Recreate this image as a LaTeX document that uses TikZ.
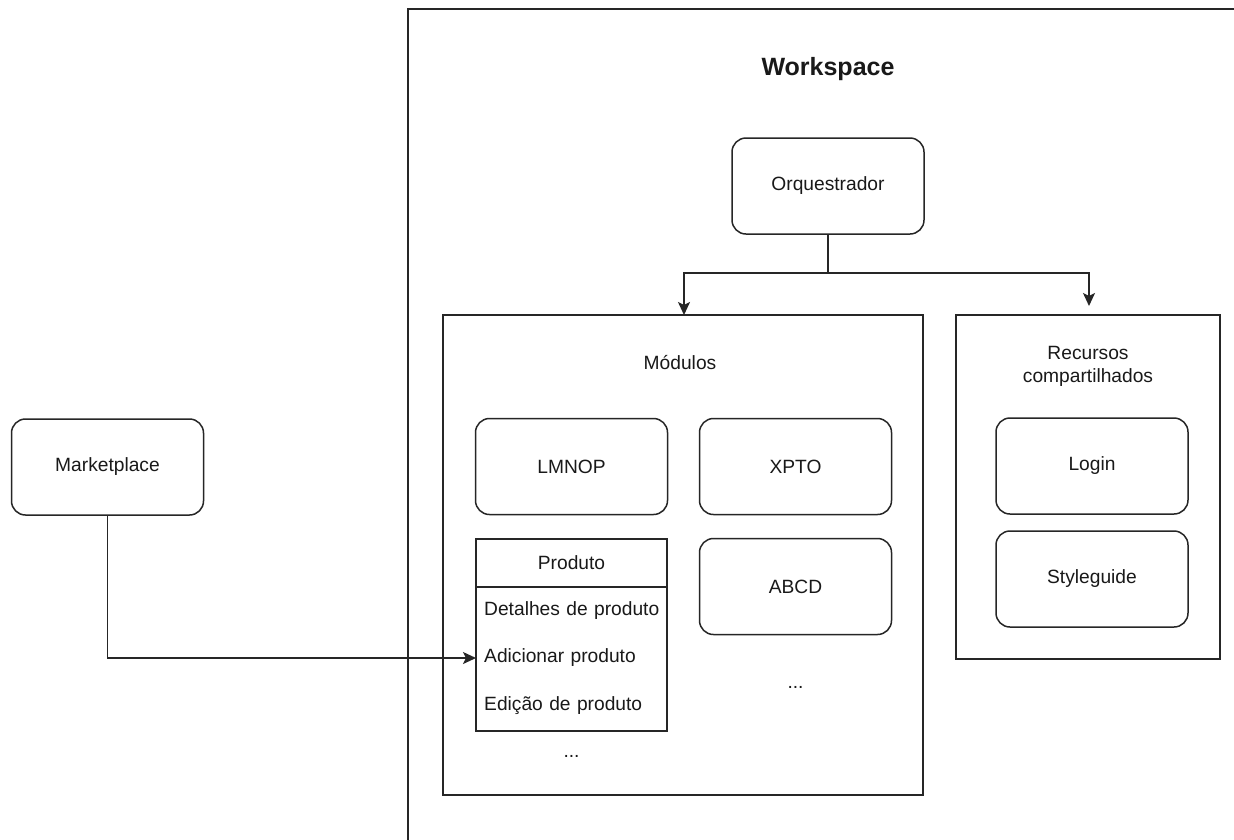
\documentclass[tikz,border=0pt]{standalone}
\usepackage{fontspec}
\setmainfont{Liberation Sans}
\usetikzlibrary{arrows.meta,positioning}
\begin{document}
\begin{tikzpicture}[x=1pt,y=-1pt,
  every node/.style={font=\fontsize{19.2}{23}\selectfont, text=black!90},
  line/.style={draw=black!85, line width=1.5pt},
  rbox/.style={line, rounded corners=14pt, minimum width=192pt, minimum height=96pt, inner sep=0pt},
  cont/.style={line, inner sep=0pt},
  rowtxt/.style={anchor=west, text width=183pt, inner xsep=8pt, inner ysep=0pt, align=left, minimum height=40pt},
  arr/.style={line, -{Stealth[length=13pt,width=12pt,inset=3pt]}}
]
\useasboundingbox (0,0) rectangle (1234,839);
\fill[white] (0,0) rectangle (1234,839);
\clip (0,0) rectangle (1234,839);

% Workspace container (runs beyond the page)
\draw[line] (408,9) rectangle (1260,870);
\node[font=\bfseries\fontsize{25}{30}\selectfont] (ws) at (828,69) {Workspace};

% Orquestrador
\node[rbox] (orq) at (828,186) {Orquestrador};

% Modulos container
\node[cont, minimum width=480pt, minimum height=480pt] (mod) at (683,555) {};
\node (modt) at (680,363) {Módulos};

% Recursos container
\node[cont, minimum width=264pt, minimum height=344pt] (rec) at (1088,487) {};
\node[align=center] (rect) at (1088,366) {Recursos\\compartilhados};

% Modules
\node[rbox] (lmnop) at (571.5,466.5) {LMNOP};
\node[rbox] (xpto) at (795.5,466.5) {XPTO};
\node[rbox] (abcd) at (795.5,586.5) {ABCD};
\node (dots2) at (795.5,687) {...};

% Produto table
\node[cont, minimum width=191pt, minimum height=192pt] (prod) at (571.5,635) {};
\node[cont, minimum width=191pt, minimum height=48pt] (prodh) at (571.5,563) {Produto};
\node[rowtxt] (det) at (476,611) {Detalhes de produto};
\node[rowtxt] (adic) at (476,658) {Adicionar produto};
\node[rowtxt] (edic) at (476,706) {Edição de produto};
\node (dots1) at (571.5,756) {...};

% Shared resources
\node[rbox] (login) at (1092,466) {Login};
\node[rbox] (style) at (1092,579) {Styleguide};

% Marketplace
\node[rbox] (mkt) at (107.5,467) {Marketplace};

% Connectors
\coordinate (split) at (828,273);
\coordinate (recend) at (1089,306);
\draw[arr] (orq.south) -- (split) -| (684,315);
\draw[arr] (split) -| (recend);
\draw[arr] (mkt.south) |- (adic.west);
\end{tikzpicture}
\end{document}
